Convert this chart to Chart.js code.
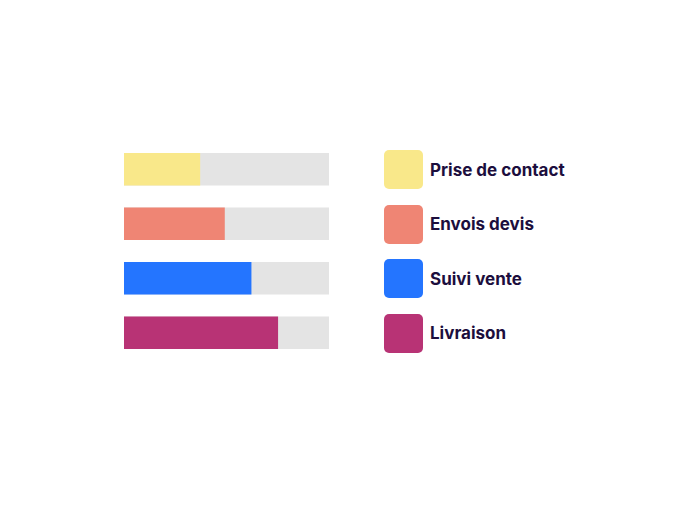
<!DOCTYPE html>
<html>
<head>
<meta charset="utf-8">
<script src="https://cdn.jsdelivr.net/npm/chart.js@4/dist/chart.umd.min.js"></script>
<style>
  html, body { margin: 0; padding: 0; background: #fff; }
  body { width: 689px; height: 532px; position: relative; overflow: hidden; font-family: Inter, "Open Sans", sans-serif; }
  #wrap { position: absolute; left: 124px; top: 142px; width: 205px; height: 218px; }
  #legend { position: absolute; left: 384px; top: 150px; }
  .item { display: flex; align-items: center; height: 39px; margin-bottom: 15.5px; }
  .box { width: 39px; height: 39px; border-radius: 5px; margin-right: 7px; }
  .lbl { font-size: 17px; font-weight: 700; color: #1c0e3d; }
</style>
</head>
<body>
<div id="wrap"><canvas id="barChart"></canvas></div>
<div id="legend"></div>
<script>
const categories = ['Prise de contact', 'Envois devis', 'Suivi vente', 'Livraison'];
const values = [37, 49, 62, 75];
const trackValues = [100, 100, 100, 100];
const colors = ['#F9E88A', '#EF8574', '#2475FF', '#B83375'];
const trackColor = '#E4E4E4';

// legend built by hand
const legend = document.getElementById('legend');
categories.forEach((name, i) => {
  const item = document.createElement('div');
  item.className = 'item';
  item.innerHTML = `<div class="box" style="background:${colors[i]}"></div><span class="lbl">${name}</span>`;
  legend.appendChild(item);
});

const ctx = document.getElementById('barChart').getContext('2d');
const chart = new Chart(ctx, {
  type: 'bar',
  data: {
    labels: categories,
    datasets: [
      {
        label: 'Valeur',
        data: values,
        backgroundColor: colors,
        barThickness: 32,
        grouped: false,
        order: 1
      },
      {
        label: 'Total',
        data: trackValues,
        backgroundColor: trackColor,
        barThickness: 32,
        grouped: false,
        order: 2
      }
    ]
  },
  options: {
    indexAxis: 'y',
    responsive: true,
    maintainAspectRatio: false,
    animation: false,
    layout: { padding: 0 },
    plugins: {
      legend: { display: false },
      tooltip: { enabled: false }
    },
    scales: {
      x: { display: false, min: 0, max: 100 },
      y: { display: false }
    }
  }
});
</script>
</body>
</html>
